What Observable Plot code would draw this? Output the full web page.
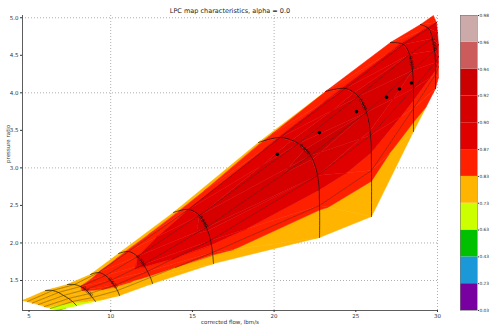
<!DOCTYPE html>
<html><head><meta charset="utf-8">
<script src="https://cdn.jsdelivr.net/npm/d3@7"></script>
<script src="https://cdn.jsdelivr.net/npm/@observablehq/plot@0.6"></script>
<style>
body{margin:0;background:#fff;overflow:hidden;font-family:"DejaVu Sans",sans-serif}
#wrap{position:relative;width:490px;height:328px;overflow:hidden}
#main{position:absolute;left:0;top:0}
#cb{position:absolute;left:447px;top:0;width:43px}
svg{max-width:none !important}
</style></head><body><div id="wrap"><div id="main"></div><div id="cb"></div></div>
<script>
// Speed lines (low -> high), 7 beta points each (surge -> choke)
const speedLabels = ["", "", "0.500", "0.600", "0.700", "0.800", "0.850", "0.900", "0.950", "1.000", ""];
const flow = [
  [4.60, 4.91, 5.21, 5.58, 5.95, 6.31, 6.74],
  [6.01, 6.44, 6.80, 7.11, 7.42, 7.66, 7.90],
  [7.35, 7.78, 8.15, 8.46, 8.70, 8.88, 9.07],
  [8.76, 9.25, 9.68, 9.99, 10.23, 10.41, 10.54],
  [10.48, 11.09, 11.64, 12.01, 12.25, 12.43, 12.56],
  [13.84, 14.76, 15.43, 15.86, 16.11, 16.23, 16.29],
  [19.04, 20.39, 21.49, 22.23, 22.66, 22.78, 22.78],
  [23.15, 24.37, 25.16, 25.65, 25.90, 25.96, 25.96],
  [27.12, 27.92, 28.29, 28.47, 28.53, 28.53, 28.53],
  [28.96, 29.45, 29.69, 29.82, 29.88, 29.88, 29.88],
  [29.75, 29.94, 30.00, 30.06, 30.06, 30.06, 30.06]
];
const pr = [
  [1.233, 1.220, 1.200, 1.180, 1.153, 1.127, 1.100],
  [1.366, 1.366, 1.340, 1.300, 1.260, 1.220, 1.167],
  [1.446, 1.446, 1.420, 1.380, 1.326, 1.273, 1.220],
  [1.580, 1.606, 1.566, 1.500, 1.433, 1.366, 1.300],
  [1.859, 1.886, 1.819, 1.713, 1.620, 1.540, 1.460],
  [2.406, 2.446, 2.366, 2.206, 2.033, 1.873, 1.726],
  [3.338, 3.405, 3.325, 3.165, 2.898, 2.499, 2.073],
  [4.018, 4.058, 3.951, 3.738, 3.431, 2.965, 2.352],
  [4.670, 4.644, 4.510, 4.297, 4.057, 3.791, 3.485],
  [4.910, 4.857, 4.724, 4.564, 4.404, 4.244, 4.057],
  [5.030, 4.937, 4.804, 4.644, 4.484, 4.351, 4.204]
];
const eff = [
  [0.74, 0.76, 0.77, 0.77, 0.75, 0.70, 0.60],
  [0.76, 0.79, 0.80, 0.80, 0.79, 0.75, 0.67],
  [0.77, 0.81, 0.83, 0.835, 0.82, 0.78, 0.72],
  [0.79, 0.83, 0.85, 0.855, 0.84, 0.80, 0.75],
  [0.80, 0.85, 0.87, 0.875, 0.86, 0.82, 0.76],
  [0.81, 0.87, 0.90, 0.905, 0.885, 0.845, 0.78],
  [0.82, 0.88, 0.915, 0.925, 0.90, 0.84, 0.77],
  [0.83, 0.885, 0.91, 0.92, 0.895, 0.845, 0.78],
  [0.845, 0.88, 0.90, 0.90, 0.885, 0.86, 0.81],
  [0.855, 0.875, 0.89, 0.89, 0.88, 0.865, 0.845],
  [0.86, 0.87, 0.88, 0.88, 0.875, 0.865, 0.855]
];
const levels = [0.03, 0.23, 0.43, 0.63, 0.73, 0.83, 0.87, 0.90, 0.92, 0.94, 0.96, 0.98];
const levelColors = ["#7800a0", "#1a98d8", "#00c000", "#ccff00", "#ffb400", "#ff2000",
  "#e00000", "#d60000", "#cc0000", "#cc5c5c", "#ccaaaa"];
const opFlow = [20.20, 22.77, 25.04, 26.88, 27.67, 28.41];
const opPR = [3.18, 3.47, 3.75, 3.94, 4.05, 4.13];
const xTicks = [5, 10, 15, 20, 25, 30];
const yTicks = [1.5, 2.0, 2.5, 3.0, 3.5, 4.0, 4.5, 5.0];

// ---- build filled contour bands on the curvilinear grid ----
function clip(poly, f) {
  const out = [];
  for (let i = 0; i < poly.length; i++) {
    const P = poly[i], Q = poly[(i + 1) % poly.length];
    const fp = f(P[2]), fq = f(Q[2]);
    if (fp >= 0) out.push(P);
    if ((fp >= 0) !== (fq >= 0)) {
      const t = fp / (fp - fq);
      out.push([P[0] + t * (Q[0] - P[0]), P[1] + t * (Q[1] - P[1]), P[2] + t * (Q[2] - P[2])]);
    }
  }
  return out;
}
const bands = [];
let pid = 0;
const nK = flow.length, nJ = flow[0].length;
const pt = (k, j) => [flow[k][j], pr[k][j], eff[k][j]];
for (let k = 0; k < nK - 1; k++) {
  for (let j = 0; j < nJ - 1; j++) {
    const A = pt(k, j), B = pt(k + 1, j), C = pt(k + 1, j + 1), D = pt(k, j + 1);
    for (const tri of [[A, B, C], [A, C, D]]) {
      for (let b = 0; b < levelColors.length; b++) {
        const lo = levels[b], hi = levels[b + 1];
        let p = clip(tri, v => v - lo);
        if (p.length < 3) continue;
        p = clip(p, v => hi - v);
        if (p.length < 3) continue;
        pid++;
        for (const q of p) bands.push({id: pid, x: q[0], y: q[1], c: levelColors[b]});
      }
    }
  }
}
const speedRows = [], betaRows = [], labelRows = [];
const pxX = 415 / 25.4, pxY = 295 / 3.93;
for (let k = 1; k < nK - 1; k++) {
  for (let j = 0; j < nJ; j++) speedRows.push({k, x: flow[k][j], y: pr[k][j]});
  if (speedLabels[k]) {
    const j = k <= 3 ? 3 : 2;
    const x = (flow[k][j] + flow[k][j + 1]) / 2, y = (pr[k][j] + pr[k][j + 1]) / 2;
    const ang = Math.atan2(-(pr[k][j + 1] - pr[k][j]) * pxY, (flow[k][j + 1] - flow[k][j]) * pxX) * 180 / Math.PI;
    labelRows.push({x, y, t: speedLabels[k], r: ang});
  }
}
for (let j = 1; j < nJ - 1; j++) for (let k = 0; k < nK; k++) betaRows.push({j, x: flow[k][j], y: pr[k][j]});
const ops = opFlow.map((f, i) => ({x: f, y: opPR[i]}));

const main = Plot.plot({
  width: 490, height: 328,
  marginLeft: 22, marginRight: 53, marginTop: 15, marginBottom: 18,
  style: {fontFamily: "DejaVu Sans, sans-serif", fontSize: "5.5px", color: "#333", background: "white"},
  x: {domain: [4.6, 30]},
  y: {domain: [1.1, 5.03]},
  color: {type: "identity"},
  marks: [
    Plot.gridX([10, 20, 30], {stroke: "#555", strokeOpacity: 0.8, strokeDasharray: "1,2", strokeWidth: 0.6}),
    Plot.gridY([1.5, 2, 3, 4, 5], {stroke: "#555", strokeOpacity: 0.8, strokeDasharray: "1,2", strokeWidth: 0.6}),
    Plot.line(bands, {x: "x", y: "y", z: "id", fill: "c", stroke: "c", strokeWidth: 0.5, curve: "linear-closed"}),
    Plot.line(betaRows, {x: "x", y: "y", z: "j", stroke: "#000", strokeOpacity: 0.5, strokeWidth: 0.6}),
    Plot.line(speedRows, {x: "x", y: "y", z: "k", stroke: "#111", strokeWidth: 0.7, curve: "catmull-rom"}),
    Plot.text(labelRows, {x: "x", y: "y", text: "t", rotate: "r", fontSize: 4.5, fill: "#111"}),
    Plot.dot(ops, {x: "x", y: "y", r: 1.8, fill: "#000"}),
    Plot.ruleX([4.6], {stroke: "#333", strokeWidth: 0.8}),
    Plot.ruleY([1.1], {stroke: "#333", strokeWidth: 0.8}),
    Plot.axisX(xTicks, {tickSize: 2, tickPadding: 2, label: null, fontSize: 5.5}),
    Plot.axisY(yTicks, {tickSize: 2, tickPadding: 2, label: null, tickFormat: d3.format(".1f"), fontSize: 5.5}),
    Plot.text(["corrected flow, lbm/s"], {frameAnchor: "bottom", dy: 13, fontSize: 5.5, fill: "#333"}),
    Plot.text(["pressure ratio"], {frameAnchor: "left", dx: -14, rotate: -90, fontSize: 5.5, fill: "#333"}),
    Plot.text(["LPC map characteristics, alpha = 0.0"], {frameAnchor: "top", dy: -7, fontSize: 6.5, fill: "#222"})
  ]
});
document.getElementById("main").appendChild(main);

const cbRows = levelColors.map((c, i) => ({i, c}));
const cb = Plot.plot({
  width: 43, height: 328,
  marginLeft: 13, marginRight: 13, marginTop: 15, marginBottom: 18,
  style: {fontFamily: "DejaVu Sans, sans-serif", fontSize: "4.3px", color: "#333", background: "transparent"},
  x: {domain: [0, 1], axis: null},
  y: {domain: [0, levelColors.length]},
  color: {type: "identity"},
  marks: [
    Plot.rect(cbRows, {x1: 0, x2: 1, y1: "i", y2: d => d.i + 1, fill: "c"}),
    Plot.frame({stroke: "#777", strokeWidth: 0.6}),
    Plot.axisY(d3.range(levels.length), {anchor: "right", tickSize: 1, tickPadding: 1, label: null,
      tickFormat: i => levels[i].toFixed(2), fontSize: 4.3})
  ]
});
document.getElementById("cb").appendChild(cb);
</script></body></html>
